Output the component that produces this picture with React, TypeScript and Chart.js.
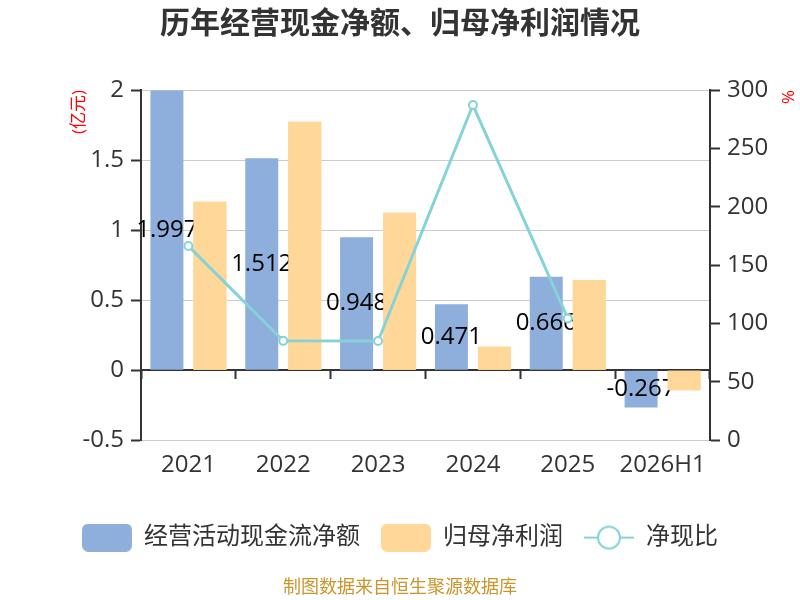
import { useEffect, useRef } from "react"
import { Chart, registerables } from "chart.js"

Chart.register(...registerables)

// données
const years = ["2021", "2022", "2023", "2024", "2025", "2026H1"]
const cashFlow = [1.997, 1.512, 0.948, 0.471, 0.666, -0.267]
const netProfit = [1.202, 1.774, 1.124, 0.167, 0.643, -0.143]
const cashRatio = [166.3, 85.1, 85.0, 287.1, 104.3, null]

const FONT = '"Open Sans", "Noto Sans CJK SC", sans-serif'
const BLUE = "#8eaedb"
const ORANGE = "#ffd899"
const TEAL = "#86d3d7"
const DARK = "#333333"

function boxIcon(color: string) {
  const c = document.createElement("canvas")
  c.width = 50
  c.height = 28
  const ctx = c.getContext("2d")!
  ctx.fillStyle = color
  ctx.beginPath()
  ctx.roundRect(0, 0, 50, 28, 6)
  ctx.fill()
  return c
}

function lineIcon(color: string) {
  const c = document.createElement("canvas")
  c.width = 50
  c.height = 28
  const ctx = c.getContext("2d")!
  ctx.strokeStyle = color
  ctx.lineWidth = 2
  ctx.beginPath()
  ctx.moveTo(0, 14)
  ctx.lineTo(50, 14)
  ctx.stroke()
  ctx.beginPath()
  ctx.arc(25, 14, 11, 0, Math.PI * 2)
  ctx.fillStyle = "#fff"
  ctx.fill()
  ctx.stroke()
  return c
}

// étiquettes des barres bleues ; les barres orange sont redessinées par-dessus
const barLabels = {
  id: "barLabels",
  afterDatasetDraw(chart: any, args: any) {
    if (args.index !== 0) return
    const { ctx } = chart
    ctx.save()
    ctx.font = `24px ${FONT}`
    ctx.fillStyle = "#000"
    ctx.textAlign = "center"
    ctx.textBaseline = "middle"
    args.meta.data.forEach((bar: any, i: number) => {
      const { x, y, base } = bar.getProps(["x", "y", "base"], true)
      ctx.fillText(String(cashFlow[i]), x, (y + base) / 2)
    })
    ctx.restore()
    chart.getDatasetMeta(1).data.forEach((el: any) => el.draw(ctx))
  },
}

export default function App() {
  const chartRef = useRef<HTMLCanvasElement>(null)
  const chartInstance = useRef<Chart | null>(null)

  useEffect(() => {
    document.body.style.margin = "0"
    if (!chartRef.current) return
    if (chartInstance.current) chartInstance.current.destroy()

    const icons = [boxIcon(BLUE), boxIcon(ORANGE), lineIcon(TEAL)]

    chartInstance.current = new Chart(chartRef.current, {
      type: "bar",
      data: {
        labels: years,
        datasets: [
          {
            label: "经营活动现金流净额",
            data: cashFlow,
            backgroundColor: BLUE,
            borderWidth: 0,
            barPercentage: 0.767,
            categoryPercentage: 0.907,
            yAxisID: "y",
            order: 1,
          },
          {
            label: "归母净利润",
            data: netProfit,
            backgroundColor: ORANGE,
            borderWidth: 0,
            barPercentage: 0.767,
            categoryPercentage: 0.907,
            yAxisID: "y",
            order: 2,
          },
          {
            type: "line",
            label: "净现比",
            data: cashRatio,
            borderColor: TEAL,
            borderWidth: 3,
            pointRadius: 4,
            pointBorderWidth: 2,
            pointBackgroundColor: "#fff",
            pointBorderColor: TEAL,
            yAxisID: "y1",
            order: 0,
          } as any,
        ],
      },
      options: {
        responsive: false,
        animation: false,
        layout: { padding: 0 },
        plugins: {
          tooltip: { enabled: false },
          title: {
            display: true,
            text: "历年经营现金净额、归母净利润情况",
            color: DARK,
            font: { family: FONT, size: 30, weight: "bold" },
            padding: { top: 6, bottom: 48 },
          },
          subtitle: {
            display: true,
            position: "bottom",
            text: "制图数据来自恒生聚源数据库",
            color: "#c8962d",
            font: { family: FONT, size: 18 },
            padding: { top: 17.6, bottom: 1.2 },
          },
          legend: {
            position: "bottom",
            labels: {
              usePointStyle: true,
              pointStyleWidth: 50,
              padding: 21,
              color: DARK,
              font: { family: FONT, size: 24 },
              sort: (a: any, b: any) => a.datasetIndex - b.datasetIndex,
              generateLabels: (chart: any) => {
                const items = Chart.defaults.plugins.legend.labels.generateLabels(chart)
                return items.map((item: any) => ({ ...item, pointStyle: icons[item.datasetIndex] }))
              },
            },
          },
        },
        scales: {
          x: {
            position: "bottom",
            grid: { display: false, drawTicks: false },
            border: { display: false },
            ticks: { color: DARK, padding: 11, font: { family: FONT, size: 24 } },
            afterFit: (scale: any) => {
              scale.height = 64.4
            },
          },
          xZero: {
            type: "category",
            axis: "x",
            position: { y: 0 },
            offset: true,
            grid: {
              offset: true,
              drawOnChartArea: false,
              drawTicks: true,
              tickLength: 8,
              tickColor: DARK,
              tickWidth: 2,
            },
            border: { color: DARK, width: 2 },
            ticks: { display: false },
          },
          y: {
            position: "left",
            min: -0.5,
            max: 2,
            ticks: {
              stepSize: 0.5,
              color: DARK,
              padding: 7,
              font: { family: FONT, size: 24 },
              callback: (v: any) => `${Number(v)}`,
            },
            grid: { color: "#cccccc", lineWidth: 1, tickLength: 10, tickColor: DARK, tickWidth: 2 },
            border: { color: DARK, width: 2 },
            title: {
              display: true,
              text: "(亿元)",
              color: "#ff0000",
              align: "end",
              font: { family: FONT, size: 17 },
              padding: { top: 69, bottom: 4 },
            },
            afterFit: (scale: any) => {
              scale.width = 141
            },
          },
          y1: {
            position: "right",
            min: 0,
            max: 300,
            ticks: {
              stepSize: 50,
              color: DARK,
              padding: 7,
              font: { family: FONT, size: 24 },
            },
            grid: { drawOnChartArea: false, tickLength: 10, tickColor: DARK, tickWidth: 2 },
            border: { color: DARK, width: 2 },
            title: {
              display: true,
              text: "%",
              color: "#ff0000",
              align: "end",
              font: { family: FONT, size: 17 },
              padding: { top: 3, bottom: 4 },
            },
            afterFit: (scale: any) => {
              scale.width = 90
            },
          },
        },
      },
      plugins: [barLabels],
    })

    return () => {
      if (chartInstance.current) {
        chartInstance.current.destroy()
        chartInstance.current = null
      }
    }
  }, [])

  return (
    <div style={{ width: 800, height: 600 }}>
      <canvas ref={chartRef} width={800} height={600}></canvas>
    </div>
  )
}
